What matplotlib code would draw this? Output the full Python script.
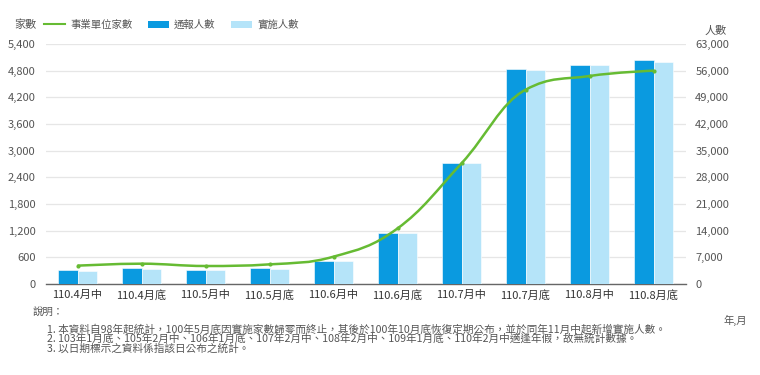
import matplotlib
matplotlib.use("Agg")
import matplotlib.pyplot as plt
from matplotlib.path import Path
from matplotlib.patches import PathPatch, Patch
from matplotlib.lines import Line2D
from matplotlib.ticker import FuncFormatter, FixedLocator
import numpy as np

plt.rcParams['font.family'] = ['Noto Sans CJK TC', 'DejaVu Sans']

categories = ['110.4月中', '110.4月底', '110.5月中', '110.5月底', '110.6月中',
              '110.6月底', '110.7月中', '110.7月底', '110.8月中', '110.8月底']
firms = [412, 457, 405, 442, 615, 1250, 2715, 4370, 4680, 4800]
reported = [3675, 4120, 3675, 4120, 6120, 13300, 31680, 56440, 57570, 58710]
implemented = [3410, 3940, 3675, 4050, 6040, 13300, 31680, 56260, 57490, 58360]
left_ticks = [0, 600, 1200, 1800, 2400, 3000, 3600, 4200, 4800, 5400]
right_ticks = [0, 7000, 14000, 21000, 28000, 35000, 42000, 49000, 56000, 63000]

notes = [
    "1. 本資料自98年起統計，100年5月底因實施家數歸零而終止，其後於100年10月底恢復定期公布，並於同年11月中起新增實施人數。",
    "2. 103年1月底、105年2月中、106年1月底、107年2月中、108年2月中、109年1月底、110年2月中適逢年假，故無統計數據。",
    "3. 以日期標示之資料係指該日公布之統計。",
]

C_LINE = '#66bb33'
C_DARK = '#0a9ae0'
C_LIGHT = '#b5e4f9'
C_TEXT = '#555555'

W, H = 760, 375
fig = plt.figure(figsize=(W / 100, H / 100), dpi=100)
x0, x1, ytop, ybot = 45.5, 685.5, 44, 284
ax2 = fig.add_axes([x0 / W, 1 - ybot / H, (x1 - x0) / W, (ybot - ytop) / H])
ax = ax2.twinx()
ax.yaxis.tick_left()
ax.yaxis.set_label_position('left')
ax2.yaxis.tick_right()

x = np.arange(len(categories))
bw = 0.305
ax2.bar(x - bw / 2, reported, width=bw, color=C_DARK, edgecolor='white', linewidth=0.4, zorder=3)
ax2.bar(x + bw / 2, implemented, width=bw, color=C_LIGHT, edgecolor='white', linewidth=0.4, zorder=3)

# Highcharts-like spline through the data points
def spline_path(xs, ys, smoothing=1.5):
    n = len(xs)
    denom = smoothing + 1
    lc = [(xs[i], ys[i]) for i in range(n)]
    rc = [(xs[i], ys[i]) for i in range(n)]
    for i in range(1, n - 1):
        px, py = xs[i], ys[i]
        lx, ly = xs[i - 1], ys[i - 1]
        nx, ny = xs[i + 1], ys[i + 1]
        lcx = (smoothing * px + lx) / denom
        lcy = (smoothing * py + ly) / denom
        rcx = (smoothing * px + nx) / denom
        rcy = (smoothing * py + ny) / denom
        if rcx != lcx:
            corr = ((rcy - lcy) * (rcx - px)) / (rcx - lcx) + py - rcy
            lcy += corr; rcy += corr
            if lcy > ly and lcy > py:
                lcy = max(ly, py); rcy = 2 * py - lcy
            elif lcy < ly and lcy < py:
                lcy = min(ly, py); rcy = 2 * py - lcy
            if rcy > ny and rcy > py:
                rcy = max(ny, py); lcy = 2 * py - rcy
            elif rcy < ny and rcy < py:
                rcy = min(ny, py); lcy = 2 * py - rcy
        lc[i] = (lcx, lcy); rc[i] = (rcx, rcy)
    verts = [(xs[0], ys[0])]
    codes = [Path.MOVETO]
    for i in range(1, n):
        verts += [rc[i - 1], lc[i], (xs[i], ys[i])]
        codes += [Path.CURVE4] * 3
    return Path(verts, codes)

ax.add_patch(PathPatch(spline_path(list(x.astype(float)), firms), facecolor='none',
                       edgecolor=C_LINE, linewidth=1.8, zorder=5))
ax.plot(x, firms, linestyle='none', marker='o', markersize=2, color=C_LINE, zorder=6)

ax.set_zorder(ax2.get_zorder() + 1)
ax.patch.set_visible(False)

ax.set_ylim(0, 5400)
ax2.set_ylim(0, 63000)
ax.set_xlim(-0.5, len(categories) - 0.5)
ax.yaxis.set_major_locator(FixedLocator(left_ticks))
ax2.yaxis.set_major_locator(FixedLocator(right_ticks))
fmt = FuncFormatter(lambda v, p: f"{int(v):,}")
ax.yaxis.set_major_formatter(fmt)
ax2.yaxis.set_major_formatter(fmt)
ax2.set_xticks(x)
ax2.set_xticklabels(categories)

ax2.grid(axis='y', color='#e6e6e6', linewidth=0.9, zorder=0)
ax2.set_axisbelow(True)
for a in (ax, ax2):
    for s in a.spines.values():
        s.set_visible(False)
ax2.spines['bottom'].set_visible(True)
ax2.spines['bottom'].set_color('#666666')
ax2.spines['bottom'].set_linewidth(1.0)
ax.tick_params(axis='y', length=0, pad=7, labelsize=8, labelcolor=C_TEXT)
ax2.tick_params(axis='y', length=0, pad=7, labelsize=8, labelcolor=C_TEXT)
ax2.tick_params(axis='x', length=0, pad=4, labelsize=8, labelcolor='#333333')
ax.tick_params(axis='x', length=0, labelbottom=False)

# titles and legend
fig.text(14 / W, 1 - 25 / H, '家數', fontsize=8, color=C_TEXT, va='center', ha='left')
fig.text(705 / W, 1 - 31 / H, '人數', fontsize=8, color=C_TEXT, va='center', ha='left')
fig.text(723 / W, 1 - 320 / H, '年,月', fontsize=7.5, color=C_TEXT, va='center', ha='left')

handles = [Line2D([0], [0], color=C_LINE, linewidth=1.5),
           Patch(facecolor=C_DARK), Patch(facecolor=C_LIGHT)]
labels = ['事業單位家數', '通報人數', '實施人數']
fig.legend(handles, labels, loc='center left', bbox_to_anchor=(44 / W, 1 - 25 / H),
           ncol=3, frameon=False, fontsize=7.5, labelcolor=C_TEXT, handlelength=2.0,
           handleheight=0.75, handletextpad=0.5, columnspacing=1.5, borderpad=0,
           borderaxespad=0)

fig.text(33 / W, 1 - 313 / H, '說明：', fontsize=7.5, color=C_TEXT, va='center', ha='left')
for i, t in enumerate(notes):
    fig.text(47 / W, 1 - (329 + 9.7 * i) / H, t, fontsize=7.65, color=C_TEXT,
             va='center', ha='left')

fig.savefig('out.png', dpi=100, facecolor='white')
